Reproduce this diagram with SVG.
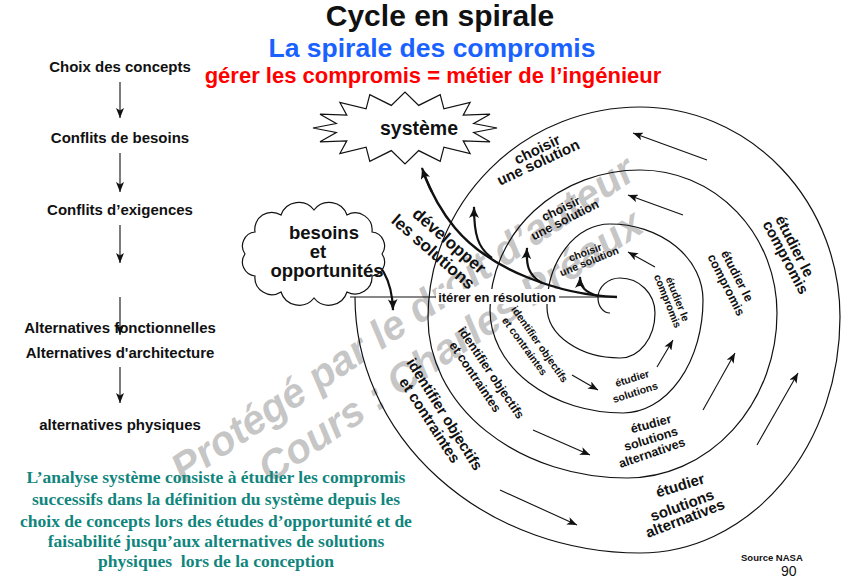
<svg xmlns="http://www.w3.org/2000/svg" width="848" height="588" viewBox="0 0 848 588">
<defs>
<style>
.t{font-family:"Liberation Sans",Arial,sans-serif;font-weight:bold;fill:#111}
.c{text-anchor:middle}
.lab{font-family:"Liberation Sans",Arial,sans-serif;font-weight:bold;fill:#111;text-anchor:middle;dominant-baseline:central}
.ln{fill:none;stroke:#111;stroke-width:1.2}
.thk{fill:none;stroke:#111;stroke-width:2.4}
.ar{fill:none;stroke:#111;stroke-width:1.1;marker-end:url(#ah)}
.ark{fill:none;stroke:#111;stroke-width:2.2;marker-end:url(#ahk)}
.note{font-family:"Liberation Serif","Times New Roman",serif;font-weight:bold;font-size:17.5px;fill:#10857d;text-anchor:middle}
.wm{font-family:"Liberation Sans",Arial,sans-serif;font-weight:bold;font-style:italic;font-size:41px;fill:#b4b4b4;fill-opacity:0.75}
</style>
<marker id="ah" viewBox="0 0 10 8" refX="10" refY="4" markerWidth="10" markerHeight="8" markerUnits="userSpaceOnUse" orient="auto"><path d="M0,0 L10,4 L0,8 L2.5,4 z" fill="#111"/></marker>
<marker id="ahk" viewBox="0 0 12 10" refX="11" refY="5" markerWidth="12" markerHeight="10" markerUnits="userSpaceOnUse" orient="auto"><path d="M0,0 Q6,3.5 12,5 Q6,6.5 0,10 Q4,5 0,0 z" fill="#111"/></marker>
</defs>
<rect width="848" height="588" fill="#fff"/>

<g id="watermark">
<text class="wm" transform="translate(183,484) rotate(-34)">Protégé par le droit d’auteur</text>
<text class="wm" transform="translate(270,484) rotate(-34)">Cours : Charles Préaux</text>
</g>

<g id="titles">
<text class="t c" x="440" y="26" font-size="30" fill="#1a1a1a">Cycle en spirale</text>
<text class="t c" x="432" y="57" font-size="26.5" style="fill:#1a62ff">La spirale des compromis</text>
<text class="t c" x="433" y="83" font-size="22" style="fill:#ff0000">gérer les compromis = métier de l’ingénieur</text>
</g>

<g id="left-column" font-size="15">
<text class="t c" x="120" y="72">Choix des concepts</text>
<text class="t c" x="120" y="143">Conflits de besoins</text>
<text class="t c" x="120" y="215">Conflits d’exigences</text>
<text class="t c" x="120" y="333">Alternatives fonctionnelles</text>
<text class="t c" x="120" y="358">Alternatives d'architecture</text>
<text class="t c" x="120" y="430">alternatives physiques</text>
</g>

<g id="connectors">
<path class="ar" d="M120,82 V118"/>
<path class="ar" d="M120,153 V192"/>
<path class="ar" d="M120,225 V263"/>
<path class="ar" d="M120,297 V335"/>
<path class="ar" d="M120,367 V403"/>

<path class="ln" d="M350,297 H617"/>
<path class="ln" d="M355,297 A285 256 0 0 0 640 553 A200 236 0 0 0 840 317 A200 210 0 0 0 640 107 A212 211 0 0 0 428 318 A199 160 0 0 0 627 478 A150 165 0 0 0 777 313 A137 143 0 0 0 640 170 A150 140 0 0 0 490 310 A133 103 0 0 0 623 413 A80 113 0 0 0 703 300 A93 76 0 0 0 610 224 A63 83 0 0 0 547 307 A73 51 0 0 0 620 358 A35 45 0 0 0 655 313 A35 35 0 0 0 620 278 A22 20 0 0 0 598 298 A12 15 0 0 0 610 313"/>

<path class="ar" d="M707,160 L633,133"/>
<path class="ar" d="M683,215 L628,195"/>
<path class="ar" d="M655,267 L628,252"/>
<path class="ar" d="M757,445 L798,373"/>
<path class="ar" d="M703,410 L735,353"/>
<path class="ar" d="M657,367 L673,340"/>
<path class="ar" d="M572,375 L598,390"/>
<path class="ar" d="M533,430 L590,455"/>
<path class="ar" d="M500,490 L577,525"/>

<path class="thk" d="M617,297 C560,295 490,270 455,228 C440,210 430,190 423,172"/>
<path class="ark" d="M432,192 C428,184 425,177 422,168"/>
<path class="ark" d="M492,258 C478,248 474,235 474,207"/>
<path class="ark" d="M542,283 C528,275 526,265 527,248"/>
<path class="ark" d="M598,296 C585,292 580,287 580,277"/>
<path class="ark" d="M362,250 C380,262 392,278 393,310"/>
</g>

<g id="systeme">
<polygon fill="#fff" stroke="#111" stroke-width="1.2" points="497,128 473.7,132.5 490,141.8 463.2,140.8 470.1,153.5 443.9,147.1 440.2,161.3 418.7,150.6 405,164 391.3,150.6 369.8,161.3 366.1,147.1 339.9,153.5 346.8,140.8 320,141.8 336.3,132.5 313,128 336.3,123.5 320,114.2 346.8,115.2 339.9,102.5 366.1,108.9 369.8,94.7 391.3,105.4 405,92 418.7,105.4 440.2,94.7 443.9,108.9 470.1,102.5 463.2,115.2 490,114.2 473.7,123.5"/>
<text class="t c" x="419" y="135" font-size="19.5">système</text>
</g>

<g id="besoins">
<path fill="#fff" stroke="#111" stroke-width="1.2" d="M382,254 A14 14 0 0 1 372,276 A17 17 0 0 1 347,292 A19 19 0 0 1 314,298 A19 19 0 0 1 281,292 A17 17 0 0 1 255,276 A14 14 0 0 1 245,254 A14 14 0 0 1 255,232 A17 17 0 0 1 281,215 A19 19 0 0 1 314,210 A19 19 0 0 1 347,215 A17 17 0 0 1 372,232 A14 14 0 0 1 382,254 Z"/>
<text class="t c" x="324" y="239" font-size="18.5">besoins</text>
<text class="t c" x="318" y="258" font-size="18.5">et</text>
<text class="t c" x="327" y="277" font-size="18.5">opportunités</text>
</g>

<g id="iterer">
<rect x="436" y="289" width="123" height="15" fill="#fff"/>
<text class="t c" x="497" y="302" font-size="13">itérer en résolution</text>
</g>

<g id="developper" font-size="17">
<text class="lab" transform="translate(449,241) rotate(41)">développer</text>
<text class="lab" transform="translate(433,252) rotate(41)">les solutions</text>
</g>

<g id="ring-inner" font-size="10.5">
<text class="lab" transform="translate(585,252) rotate(-20)">choisir</text>
<text class="lab" transform="translate(589,261) rotate(-22)">une solution</text>
<text class="lab" transform="translate(678,299) rotate(68)">étudier le</text>
<text class="lab" transform="translate(668,301) rotate(68)">compromis</text>
<text class="lab" transform="translate(540,344) rotate(55)">identifier objectifs</text>
<text class="lab" transform="translate(525,346) rotate(54)">et contraintes</text>
<text class="lab" transform="translate(632,378) rotate(-17)">étudier</text>
<text class="lab" transform="translate(635,392) rotate(-18)">solutions</text>
</g>

<g id="ring-middle" font-size="12.5">
<text class="lab" transform="translate(561,209) rotate(-26)">choisir</text>
<text class="lab" transform="translate(565,220) rotate(-27)">une solution</text>
<text class="lab" transform="translate(737,276) rotate(63)">étudier le</text>
<text class="lab" transform="translate(726,285) rotate(63)">compromis</text>
<text class="lab" transform="translate(491,373) rotate(56)">identifier objectifs</text>
<text class="lab" transform="translate(475,377) rotate(56)">et contraintes</text>
<text class="lab" transform="translate(651,424) rotate(-15)">étudier</text>
<text class="lab" transform="translate(651,439) rotate(-17)">solutions</text>
<text class="lab" transform="translate(652,453) rotate(-19)">alternatives</text>
</g>

<g id="ring-outer" font-size="15">
<text class="lab" transform="translate(537,149) rotate(-26)">choisir</text>
<text class="lab" transform="translate(538,162) rotate(-25)">une solution</text>
<text class="lab" transform="translate(795,246) rotate(63)">étudier le</text>
<text class="lab" transform="translate(786,257) rotate(62)">compromis</text>
<text class="lab" transform="translate(445,414) rotate(58)">identifier objectifs</text>
<text class="lab" transform="translate(430,420) rotate(57)">et contraintes</text>
<text class="lab" transform="translate(680,485) rotate(-17)">étudier</text>
<text class="lab" transform="translate(682,505) rotate(-20)">solutions</text>
<text class="lab" transform="translate(685,518) rotate(-21)">alternatives</text>
</g>

<g id="note">
<text class="note" x="216" y="483">L’analyse système consiste à étudier les compromis</text>
<text class="note" x="216" y="505">successifs dans la définition du système depuis les</text>
<text class="note" x="216" y="527">choix de concepts lors des études d’opportunité et de</text>
<text class="note" x="216" y="547">faisabilité jusqu’aux alternatives de solutions</text>
<text class="note" x="216" y="567" xml:space="preserve">physiques  lors de la conception</text>
</g>

<g id="source">
<text class="t" x="741" y="561" font-size="9.5">Source NASA</text>
<text x="781" y="576" font-size="14" font-family="Liberation Sans, Arial, sans-serif" fill="#111">90</text>
</g>
</svg>
